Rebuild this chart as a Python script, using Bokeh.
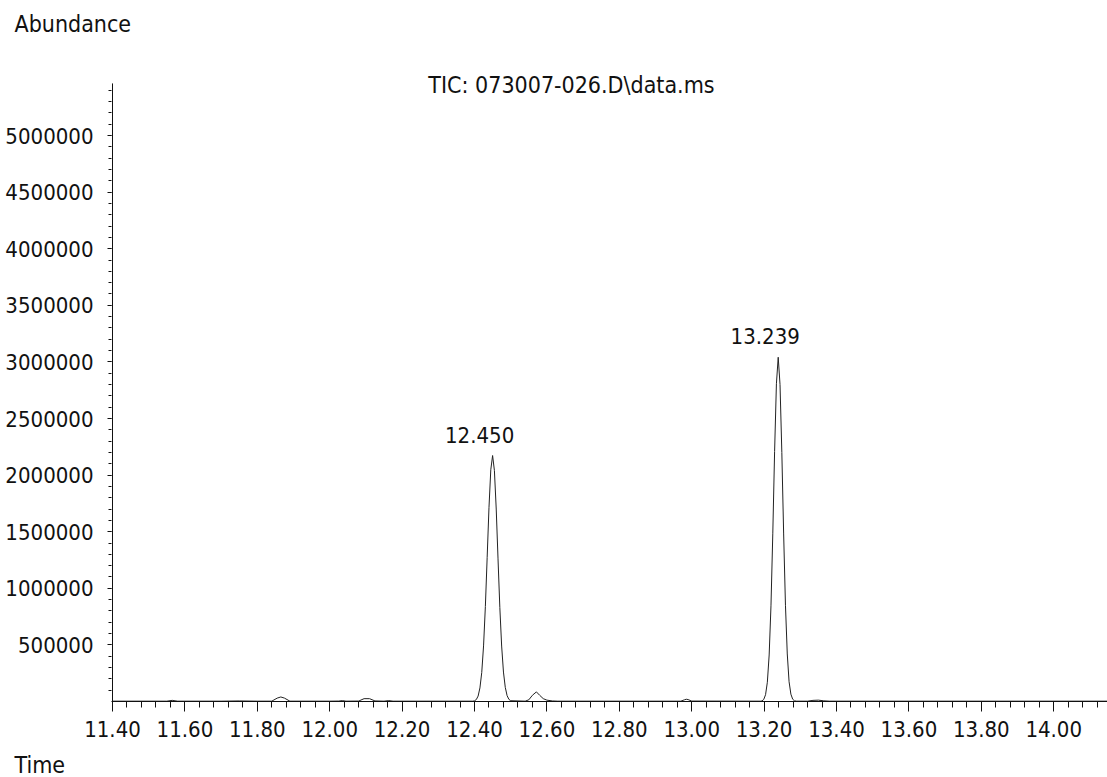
from bokeh.plotting import figure
from bokeh.layouts import column
from bokeh.models import Range1d, FixedTicker, PrintfTickFormatter, ColumnDataSource, Title
from bokeh.core.properties import value
from bokeh.embed import file_html
from bokeh.resources import INLINE

# ---- data ----
time = [11.40, 11.55, 11.565, 11.58, 11.70, 11.75, 11.80, 11.84, 11.855, 11.865, 11.875, 11.89,
        12.00, 12.025, 12.035, 12.045, 12.08, 12.095, 12.11, 12.125, 12.15, 12.163, 12.175, 12.395,
        12.400, 12.405, 12.410, 12.415, 12.420, 12.425, 12.430, 12.435, 12.440, 12.445, 12.450,
        12.455, 12.460, 12.465, 12.470, 12.475, 12.480, 12.485, 12.490, 12.495, 12.500,
        12.54, 12.55, 12.56, 12.571, 12.58, 12.59, 12.60, 12.615, 12.63,
        12.97, 12.98, 12.985, 12.99, 13.00, 13.19,
        13.194, 13.199, 13.204, 13.209, 13.214, 13.219, 13.224, 13.229, 13.234, 13.239,
        13.244, 13.249, 13.254, 13.259, 13.264, 13.269, 13.274, 13.279, 13.284,
        13.29, 13.32, 13.335, 13.35, 13.365, 13.38, 14.15]
abundance = [3000, 3000, 10000, 3000, 3000, 5000, 3000, 3000, 30000, 40000, 30000, 3000,
             3000, 4000, 8000, 3000, 4000, 25000, 25000, 5000, 3000, 8000, 3000, 3000,
             6000, 17000, 48000, 120000, 256000, 491000, 839000, 1273000, 1712000, 2047000, 2173000,
             2040000, 1700000, 1260000, 830000, 490000, 260000, 125000, 52000, 19000, 7000,
             3000, 15000, 55000, 85000, 55000, 25000, 12000, 5000, 3000,
             3000, 15000, 20000, 17000, 4000, 3000,
             5000, 18000, 60000, 170000, 411000, 845000, 1481000, 2208000, 2807000, 3041000,
             2800000, 2200000, 1480000, 850000, 420000, 175000, 65000, 20000, 6000,
             3000, 3000, 10000, 12000, 6000, 3000, 3000]

peak_times = [12.450, 13.239]
peak_heights = [2173000, 3041000]
peak_labels = ["12.450", "13.239"]

x_major = [11.40, 11.60, 11.80, 12.00, 12.20, 12.40, 12.60, 12.80, 13.00, 13.20, 13.40, 13.60, 13.80, 14.00]
y_major = [500000, 1000000, 1500000, 2000000, 2500000, 3000000, 3500000, 4000000, 4500000, 5000000]
y_axis_top = 5460000

title_text = "TIC: 073007-026.D\\data.ms"
y_title = "Abundance"
x_title = "Time"

FONT = "DejaVu Sans Condensed, Roboto"
INK = "#111111"

W = 1107
TOP_H, MAIN_H, BOT_H = 70, 676, 31
LEFT, BOTTOM = 111, 45
px_per_min = 362.0
px_per_unit = 56.6 / 500000.0
x_start = 11.40 - 1.0 / px_per_min
x_end = x_start + (W - LEFT) / px_per_min
y_end = (MAIN_H - BOTTOM) / px_per_unit


def text_strip(height, label, side, border_top, border_bottom):
    f = figure(width=W, height=height, output_backend="svg", toolbar_location=None,
               x_range=Range1d(0, 1), y_range=Range1d(0, 1),
               x_axis_type=None, y_axis_type=None,
               min_border_left=LEFT, min_border_right=0,
               min_border_top=border_top, min_border_bottom=border_bottom)
    f.outline_line_color = None
    f.xgrid.visible = False
    f.ygrid.visible = False
    f.background_fill_color = "white"
    f.border_fill_color = "white"
    f.add_layout(Title(text=label, align="left", vertical_align="bottom", offset=14 - LEFT,
                       standoff=0, text_font=FONT, text_font_size="23px",
                       text_font_style="normal", text_color=INK), side)
    return f


top = text_strip(TOP_H, y_title, "above", 36, 0)
bottom = text_strip(BOT_H, x_title, "below", 0, 0)

p = figure(width=W, height=MAIN_H, output_backend="svg", toolbar_location=None,
           x_range=Range1d(x_start, x_end), y_range=Range1d(0, y_end),
           min_border_left=LEFT, min_border_right=0, min_border_top=0, min_border_bottom=BOTTOM)
p.outline_line_color = None
p.xgrid.visible = False
p.ygrid.visible = False
p.background_fill_color = "white"
p.border_fill_color = "white"

minor_x = [round(11.40 + 0.04 * i, 2) for i in range(0, 70)]
minor_y = [100000 * i for i in range(1, 55)]

p.xaxis.ticker = FixedTicker(ticks=x_major, minor_ticks=minor_x)
p.yaxis.ticker = FixedTicker(ticks=y_major, minor_ticks=minor_y)
p.xaxis.formatter = PrintfTickFormatter(format="%.2f")
p.yaxis.formatter = PrintfTickFormatter(format="%d")

for ax in (p.xaxis, p.yaxis):
    ax.axis_line_color = INK
    ax.major_tick_line_color = INK
    ax.minor_tick_line_color = INK
    ax.major_label_text_font = FONT
    ax.major_label_text_font_size = "22px"
    ax.major_label_text_color = INK
    ax.major_tick_in = 0
    ax.minor_tick_in = 0

p.yaxis.axis_line_color = None
p.xaxis.major_tick_out = 10
p.xaxis.minor_tick_out = 6
p.xaxis.major_label_standoff = 9
p.yaxis.major_tick_out = 4
p.yaxis.minor_tick_out = 3
p.yaxis.major_label_standoff = 14

# vertical axis line, only up to the axis top
p.segment(x0=[11.40], y0=[0], x1=[11.40], y1=[y_axis_top], line_color=INK, line_width=1)

# chromatogram trace
p.line(time, abundance, line_color="#222222", line_width=1)

# peak retention-time labels
src = ColumnDataSource(dict(x=peak_times, y=peak_heights, t=peak_labels))
p.text(x="x", y="y", text="t", source=src, x_offset=-13, y_offset=-21,
       text_align="center", text_baseline="middle",
       text_font=value(FONT), text_font_size="22px", text_color=INK)

# chart title inside the frame
p.text(x=[11.40 + (571 - 112) / px_per_min], y=[(701 - 84) / px_per_unit], text=[title_text],
       text_align="center", text_baseline="middle",
       text_font=value(FONT), text_font_size="23px", text_color=INK)

layout = column(top, p, bottom, spacing=0)
open("out.html", "w").write(file_html(layout, INLINE))
